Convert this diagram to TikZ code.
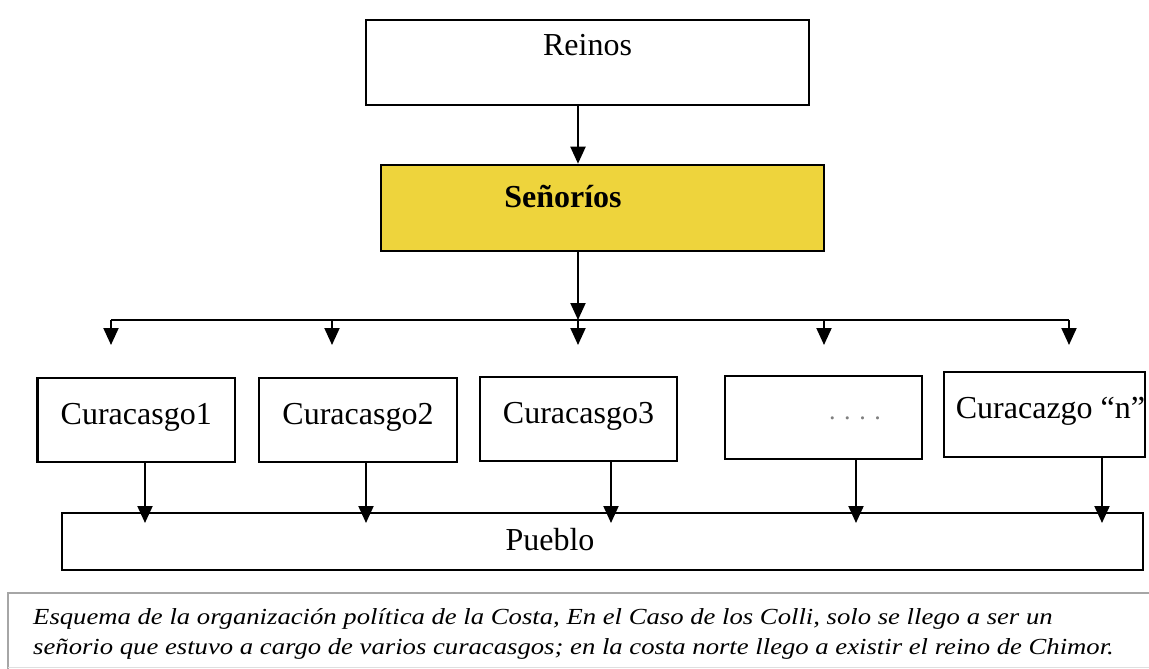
\documentclass[tikz,border=0pt]{standalone}
\usepackage{fontspec}
\setmainfont{Liberation Serif}
\newfontfamily\capfont{Liberation Serif}[FakeStretch=1.16]
\usetikzlibrary{arrows.meta}

\definecolor{senoryellow}{RGB}{238,212,60}

\tikzset{
  box/.style={draw, line width=2.6pt, inner sep=0pt, text height=22pt,
    font=\fontsize{32pt}{38pt}\selectfont},
  arr/.style={line width=2pt, -{Triangle[length=17pt,width=15pt]}}
}

\begin{document}
\begin{tikzpicture}[x=1pt,y=-1pt]
  \useasboundingbox (0,0) rectangle (1149,669);

  % Top levels
  \node[box, minimum width=443pt, minimum height=85pt, text depth=35pt]
    (reinos) at (587.5,62.5) {Reinos};
  \node[box, fill=senoryellow, minimum width=443pt, minimum height=86pt, text depth=24pt,
    font=\fontsize{32pt}{38pt}\selectfont\bfseries]
    (sen) at (602.5,208) {\hspace*{-79pt}Señoríos};

  % Curacazgos
  \node[box, minimum width=197.5pt, minimum height=84pt, text depth=14pt] (c1) at (136.25,420) {Curacasgo1};
  \node[box, minimum width=198pt, minimum height=84pt, text depth=14pt]   (c2) at (358,420)    {Curacasgo2};
  \node[box, minimum width=197pt, minimum height=84pt, text depth=14pt]   (c3) at (578.5,419)  {Curacasgo3};
  \node[box, minimum width=197pt, minimum height=83pt, text depth=18pt, text=gray]
    (c4) at (823.5,417.5) {\hspace*{63pt}\fontsize{26pt}{30pt}\selectfont. . . .};
  \node[box, minimum width=197pt, minimum height=85pt, text depth=15pt]   (c5) at (1044.5,414.5) {\hspace*{12pt}Curacazgo “n”};

  % Pueblo
  \node[box, minimum width=1081pt, minimum height=57pt, text depth=5pt]
    (pueblo) at (602.5,541.5) {\hspace*{-105pt}Pueblo};

  % Reinos -> Señoríos -> bar
  \coordinate (mid) at (578,320);
  \coordinate (barL) at (111,320);
  \coordinate (barR) at (1069,320);
  \draw[arr] (mid |- reinos.south) -- (mid |- sen.north);
  \draw[arr] (mid |- sen.south) -- (mid);
  \draw[line width=2pt] (barL) -- (barR);

  % bar -> curacazgos
  \foreach \x [count=\i] in {111,332,578,824,1069} {
    \coordinate (top\i) at (\x,320);
    \coordinate (tip\i) at (\x,345);
    \draw[arr] (top\i) -- (tip\i);
  }

  % curacazgos -> pueblo
  \foreach \x [count=\i] in {145,366,611,856,1102} {
    \coordinate (pb\i) at (\x,523);
    \draw[arr] (pb\i |- c\i.south) -- (pb\i);
  }

  % Caption frame
  \draw[gray!70, line width=1.5pt] (8,669) -- (8,593) -- (1149,593);
  \draw[gray!25, line width=1pt] (8,667) -- (1149,667);
  \node[anchor=north west, inner sep=0pt, align=left,
    font=\capfont\fontsize{23pt}{30pt}\selectfont\itshape] (cap) at (33,608)
    {Esquema de la organización política de la Costa, En el Caso de los Colli, solo se llego a ser un\\
     señorio que estuvo a cargo de varios curacasgos; en la costa norte llego a existir el reino de Chimor.};
\end{tikzpicture}
\end{document}
